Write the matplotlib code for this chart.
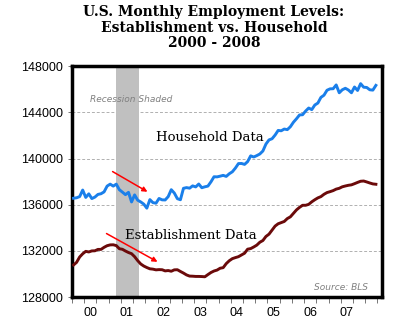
import numpy as np
import matplotlib
matplotlib.use("Agg")
import matplotlib.pyplot as plt

# Monthly levels (thousands), Jan 2000 - Apr 2008
household = [
    136560, 136600, 136700, 137270, 136630, 136940, 136530, 136660, 136890, 136950, 137110, 137610,
    137780, 137610, 137780, 137300, 137090, 136870, 137070, 136240, 136850, 136390, 136240, 136050,
    135700, 136440, 136180, 136130, 136540, 136420, 136410, 136700, 137300, 137010, 136520, 136430,
    137420, 137480, 137430, 137630, 137540, 137790, 137470, 137550, 137610, 137980, 138420, 138410,
    138470, 138540, 138450, 138680, 138850, 139170, 139560, 139570, 139490, 139730, 140230, 140130,
    140250, 140390, 140650, 141250, 141610, 141710, 142030, 142430, 142400, 142550, 142500, 142750,
    143140, 143440, 143770, 143790, 144110, 144370, 144230, 144630, 144800, 145290, 145480, 145910,
    146030, 146040, 146370, 145690, 145950, 146080, 145930, 145690, 146190, 145890, 146480, 146170,
    146150, 145950, 145920, 146330,
]
establishment = [
    130780, 131010, 131470, 131750, 131960, 131910, 132000, 132010, 132130, 132130, 132310, 132450,
    132520, 132530, 132460, 132190, 132140, 131990, 131860, 131760, 131500, 131160, 130870, 130690,
    130560, 130450, 130420, 130360, 130380, 130370, 130270, 130300, 130240, 130360, 130370, 130220,
    130080, 129920, 129820, 129810, 129790, 129790, 129780, 129760, 129950, 130130, 130260, 130340,
    130500, 130550, 130900, 131150, 131330, 131420, 131500, 131650, 131800, 132150, 132200, 132340,
    132500, 132750, 132900, 133250, 133450, 133800, 134150, 134350, 134450, 134550, 134800, 134950,
    135250, 135550, 135770, 135950, 135950, 136030, 136250, 136430, 136590, 136700, 136900, 137050,
    137130, 137220, 137350, 137420, 137550, 137620, 137680, 137720, 137820, 137930, 138030, 138050,
    137970, 137880, 137800, 137770,
]
year_labels = ["00", "01", "02", "03", "04", "05", "06", "07"]
recession = (14, 21.5)  # Mar 2001 - Nov 2001, in months since Jan 2000

months = np.arange(len(household))

fig = plt.figure(figsize=(4.0, 3.24), dpi=100)
ax = fig.add_axes([0.18, 0.083, 0.775, 0.713])

ax.axvspan(recession[0], recession[1], color="#c0c0c0", lw=0, zorder=1)
for y in [132000, 136000, 140000, 144000]:
    ax.axhline(y, color="#b0b0b0", lw=0.7, ls=(0, (3, 2)), zorder=0)

ax.plot(months, household, color="#1a7fea", lw=2.1, zorder=3)
ax.plot(months, establishment, color="#6b0a0a", lw=2.1, zorder=3)

ax.set_xlim(-0.5, 101)
ax.set_ylim(128000, 148000)
ax.set_yticks(np.arange(128000, 148001, 4000))
ax.set_yticklabels([str(v) for v in range(128000, 148001, 4000)],
                   fontsize=9, family="Liberation Sans")

# x axis: small ticks every 4 months, year labels centred in each year
ax.set_xticks(np.arange(-0.5, 101, 4), minor=True)
ax.set_xticks([5.5 + 12 * i for i in range(len(year_labels))])
ax.set_xticklabels(year_labels, fontsize=9, family="Liberation Sans")
ax.tick_params(axis="x", which="major", length=0, pad=7)
ax.tick_params(axis="x", which="minor", length=4, width=0.6, color="#606060")
ax.tick_params(axis="y", length=3, width=0.6, color="#606060")

for s in ax.spines.values():
    s.set_linewidth(2.5)
    s.set_color("black")

fig.text(0.535, 0.985, "U.S. Monthly Employment Levels:\nEstablishment vs. Household\n2000 - 2008",
         ha="center", va="top", fontsize=10, fontweight="bold",
         family="DejaVu Serif", linespacing=1.15)

ax.text(44.5, 141850, "Household Data", fontsize=9.5, family="DejaVu Serif",
        ha="center", va="center")
ax.text(38.5, 133360, "Establishment Data", fontsize=9.5, family="DejaVu Serif",
        ha="center", va="center")
ax.text(5.5, 145140, "Recession Shaded", fontsize=6.5, style="italic",
        color="#808080", ha="left", va="center")
ax.text(96.5, 128860, "Source: BLS", fontsize=6.5, style="italic",
        color="#808080", ha="right", va="center")

arrow = dict(arrowstyle="-|>", color="red", lw=1.1, mutation_scale=7)
ax.annotate("", xy=(25, 137000), xytext=(12, 138990), arrowprops=arrow, zorder=4)
ax.annotate("", xy=(28.3, 130940), xytext=(10, 133620), arrowprops=arrow, zorder=4)

fig.savefig("out.png", dpi=100)
